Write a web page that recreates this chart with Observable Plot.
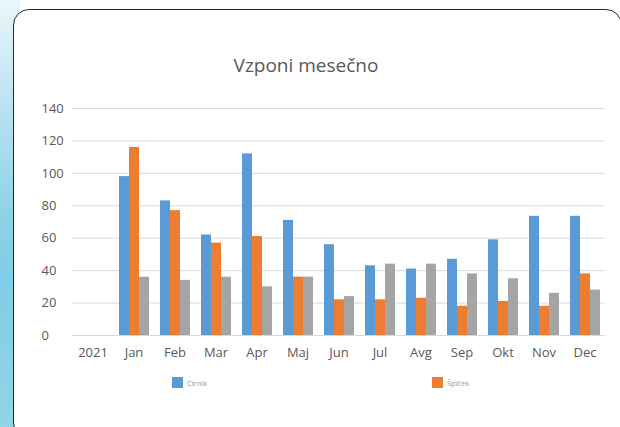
<!DOCTYPE html>
<html>
<head>
<meta charset="utf-8">
<script src="https://cdn.jsdelivr.net/npm/d3@7"></script>
<script src="https://cdn.jsdelivr.net/npm/@observablehq/plot@0.6"></script>
<style>
  body { margin: 0; background: #fff; }
  #wrap { position: relative; width: 620px; height: 427px; overflow: hidden; background: #fff; font-family: "Open Sans", sans-serif; }
  #strip { position: absolute; left: 0; top: 0; width: 20px; height: 427px;
    background: linear-gradient(to bottom, #eaf6fb 0%, #b9e2f1 25%, #8fd2e8 50%, #7fcde6 65%, #92d4e8 100%); }
  #card { position: absolute; left: 13px; top: 9px; width: 609px; height: 430px; box-sizing: border-box;
    border: 1.5px solid #1f2a30; border-radius: 16px; background: #fff; }
  #title { position: absolute; left: 0; width: 612px; top: 52px; text-align: center; font-size: 19px; color: #595959; }
  #chart { position: absolute; left: 0; top: 95px; }
  .leg { position: absolute; top: 377px; display: flex; align-items: center; font-size: 7.5px; color: #999; }
  .sw { width: 11px; height: 11px; margin-right: 4px; }
</style>
</head>
<body>
<div id="wrap">
  <div id="strip"></div>
  <div id="card"></div>
  <div id="title">Vzponi mesečno</div>
  <div id="chart"></div>
  <div class="leg" style="left:172px"><div class="sw" style="background:#5b9bd5"></div>Cirnik</div>
  <div class="leg" style="left:432px"><div class="sw" style="background:#ed7d31"></div>Špiček</div>
</div>
<script>
const categories = ["2021", "Jan", "Feb", "Mar", "Apr", "Maj", "Jun", "Jul", "Avg", "Sep", "Okt", "Nov", "Dec"];
const months = ["Jan", "Feb", "Mar", "Apr", "Maj", "Jun", "Jul", "Avg", "Sep", "Okt", "Nov", "Dec"];
const seriesNames = ["Cirnik", "Špiček", "Tretji"];
const cirnik = [98, 83, 62, 112, 71, 56, 43, 41, 47, 59, 73.5, 73.5];
const spicek = [116, 77, 57, 61, 36, 22, 22, 23, 18, 21, 18, 38];
const tretji = [36, 34, 36, 30, 36, 24, 44, 44, 38, 35, 26, 28];
const seriesColors = ["#5b9bd5", "#ed7d31", "#a5a5a5"];
const yTicks = [0, 20, 40, 60, 80, 100, 120, 140];

const allSeries = [cirnik, spicek, tretji];
const data = [];
months.forEach((m, i) => {
  seriesNames.forEach((s, j) => data.push({month: m, series: s, value: allSeries[j][i]}));
});
const firstCat = categories[0];

const chart = Plot.plot({
  width: 620,
  height: 270,
  marginLeft: 70,
  marginRight: 14,
  marginTop: 13,
  marginBottom: 30,
  style: {fontFamily: "Open Sans, sans-serif", background: "transparent", overflow: "visible"},
  fx: {domain: categories, paddingInner: 0, paddingOuter: 0, label: null, axis: null},
  x: {domain: seriesNames, paddingInner: 0, paddingOuter: 0.42, axis: null},
  y: {domain: [0, 140], label: null, axis: null},
  color: {domain: seriesNames, range: seriesColors},
  marks: [
    Plot.gridY(yTicks, {stroke: "#d9d9d9", strokeOpacity: 1, strokeWidth: 1}),
    Plot.barY(data, {fx: "month", x: "series", y: "value", fill: "series"}),
    Plot.text(yTicks, {fx: () => firstCat, y: d => d, text: d => String(d), frameAnchor: "left",
      textAnchor: "start", dx: -31, fontSize: 13, fill: "#595959"}),
    Plot.axisFx({anchor: "bottom", tickSize: 0, tickPadding: 12, fontSize: 13, fill: "#595959", label: null})
  ]
});
document.getElementById("chart").appendChild(chart);
</script>
</body>
</html>
